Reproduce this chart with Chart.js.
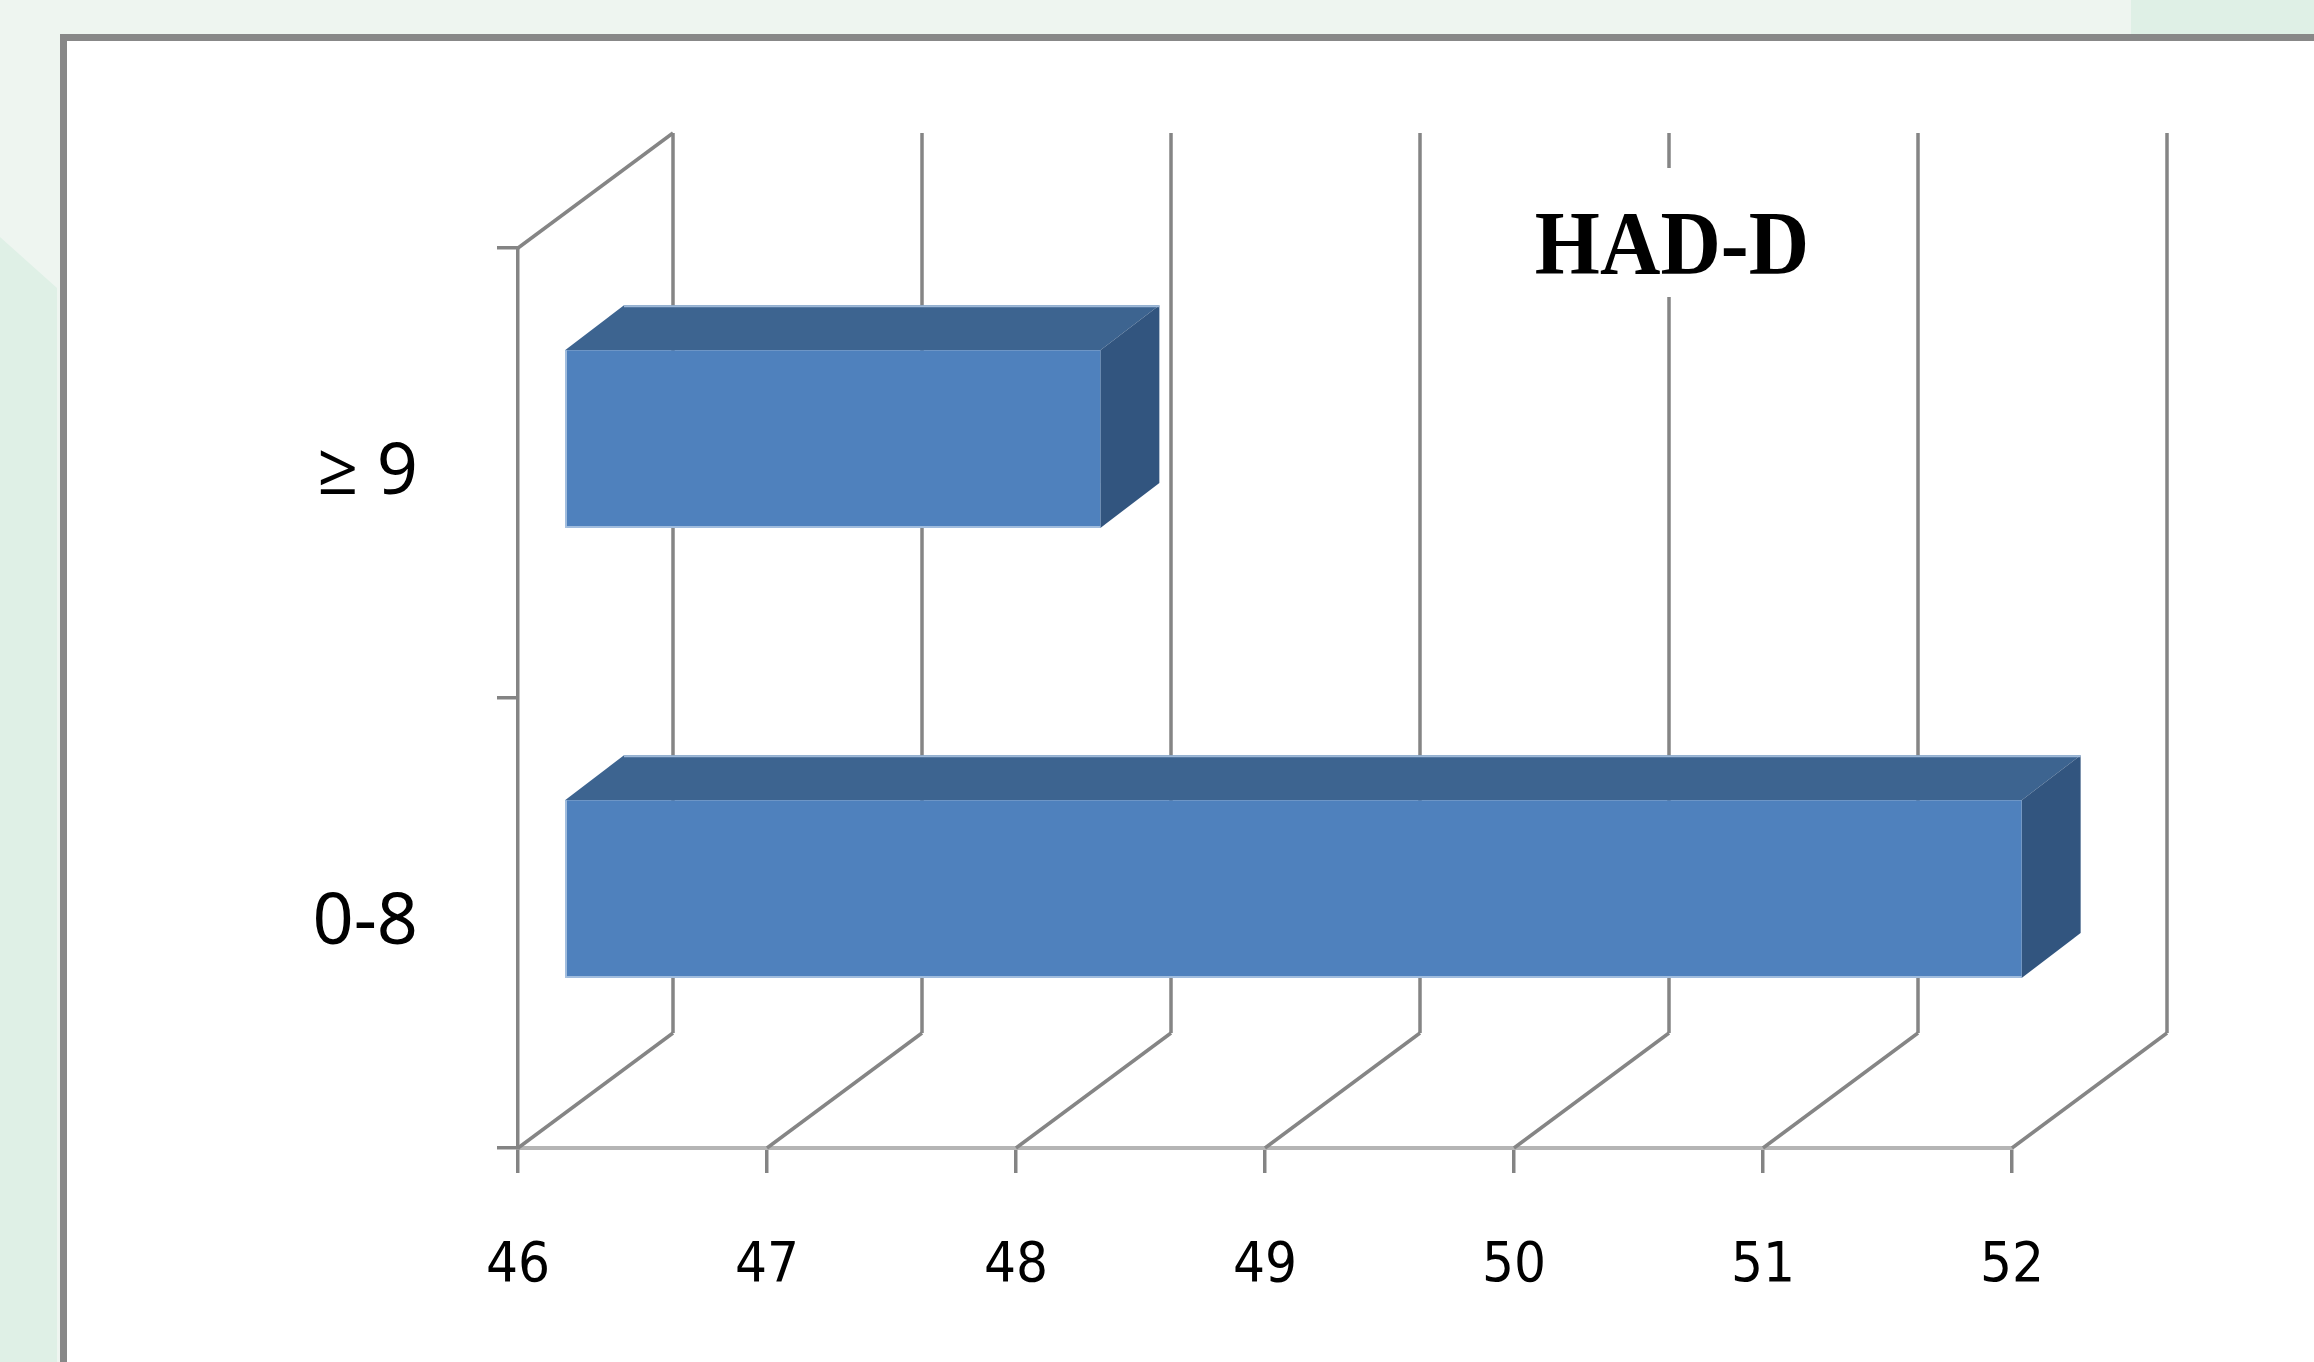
<!DOCTYPE html>
<html>
<head>
<meta charset="utf-8">
<title>HAD-D</title>
<script src="https://cdn.jsdelivr.net/npm/chart.js@4.4.1/dist/chart.umd.min.js"></script>
<style>
  html, body { margin: 0; padding: 0; width: 2314px; height: 1362px; overflow: hidden; background: #eef5f0; }
  #stripLeft { position: absolute; left: 0; top: 0; width: 57px; height: 1362px; background: #dff0e6;
               clip-path: polygon(0 237px, 57px 288px, 57px 1362px, 0 1362px); }
  #stripTop { position: absolute; left: 2131px; top: 0; width: 183px; height: 34px; background: #dff0e6; }
  #panel { position: absolute; left: 60px; top: 34px; width: 2400px; height: 1500px; background: #ffffff;
           border-left: 7px solid #888888; border-top: 7px solid #888888; }
  #wrap { position: absolute; left: 0; top: 0; width: 2314px; height: 1362px; }
</style>
</head>
<body>
<div id="stripLeft"></div>
<div id="stripTop"></div>
<div id="panel"></div>
<div id="wrap"><canvas id="chart"></canvas></div>
<script>
// HAD-D score groups and their share (%)
const categories = ['≥ 9', '0-8'];
const percentages = [48.15, 51.85];
const xTickValues = [46, 47, 48, 49, 50, 51, 52];
const chartTitle = 'HAD-D';

// Oblique projection used for the 3D walls and bar blocks
const WALL = { dx: 155, dy: -115 };        // back wall offset from the front plane
const BAR_FRONT = { dx: 47, dy: -34 };     // bar front face depth
const BAR_BACK = { dx: 106, dy: -79 };     // bar back face depth
const GRID_COLOR = '#858585';

function line(ctx, x1, y1, x2, y2) {
  ctx.beginPath();
  ctx.moveTo(x1, y1);
  ctx.lineTo(x2, y2);
  ctx.stroke();
}

function poly(ctx, pts, fill) {
  ctx.beginPath();
  ctx.moveTo(pts[0][0], pts[0][1]);
  for (let i = 1; i < pts.length; i++) ctx.lineTo(pts[i][0], pts[i][1]);
  ctx.closePath();
  ctx.fillStyle = fill;
  ctx.fill();
}

// Walls, floor and the title box behind the bars
const wallsPlugin = {
  id: 'walls3d',
  beforeDatasetsDraw(chart) {
    const ctx = chart.ctx;
    const area = chart.chartArea;
    const xs = chart.scales.x;
    ctx.save();
    ctx.strokeStyle = GRID_COLOR;
    ctx.lineWidth = 3.5;
    ctx.lineCap = 'butt';
    xTickValues.forEach(v => {
      const px = xs.getPixelForValue(v);
      line(ctx, px + WALL.dx, area.top + WALL.dy, px + WALL.dx, area.bottom + WALL.dy);
      line(ctx, px, area.bottom, px + WALL.dx, area.bottom + WALL.dy);
    });
    // top edge of the left side wall
    line(ctx, area.left, area.top, area.left + WALL.dx, area.top + WALL.dy);

    // title on a white plate over the back wall
    const cx = 1672, cy = 244;
    ctx.fillStyle = '#ffffff';
    ctx.fillRect(cx - 145, 168, 290, 129);
    ctx.fillStyle = '#000000';
    ctx.font = 'bold 90px "Liberation Serif", "Times New Roman", serif';
    ctx.textAlign = 'center';
    ctx.textBaseline = 'alphabetic';
    ctx.translate(cx, cy + 30);
    ctx.scale(0.93, 1);
    ctx.fillText(chartTitle, 0, 0);
    ctx.restore();
  }
};

// Extrude every bar element into a block starting at the axis minimum
const blocksPlugin = {
  id: 'blocks3d',
  afterDatasetsDraw(chart) {
    const ctx = chart.ctx;
    const xs = chart.scales.x;
    const meta = chart.getDatasetMeta(0);
    const ddx = BAR_BACK.dx - BAR_FRONT.dx;
    const ddy = BAR_BACK.dy - BAR_FRONT.dy;
    const minPx = xs.getPixelForValue(xs.min);
    ctx.save();
    meta.data.forEach(el => {
      const p = el.getProps(['x', 'y', 'base', 'height'], true);
      const left = Math.max(p.base, minPx) + BAR_FRONT.dx;
      const right = p.x + BAR_FRONT.dx;
      const top = p.y - p.height / 2 + BAR_FRONT.dy;
      const bottom = p.y + p.height / 2 + BAR_FRONT.dy;
      // top face
      poly(ctx, [[left, top], [right, top], [right + ddx, top + ddy], [left + ddx, top + ddy]], '#3d6490');
      // side face
      poly(ctx, [[right, top], [right + ddx, top + ddy], [right + ddx, bottom + ddy], [right, bottom]], '#32557f');
      // front face
      poly(ctx, [[left, top], [right, top], [right, bottom], [left, bottom]], '#4f81bd');
      // light edges
      ctx.strokeStyle = 'rgba(170,195,225,0.9)';
      ctx.lineWidth = 2;
      line(ctx, left + ddx, top + ddy + 1, right + ddx, top + ddy + 1);
      line(ctx, left + 1, top, left + 1, bottom);
      line(ctx, left, bottom - 1, right, bottom - 1);
    });
    ctx.restore();
  }
};

new Chart(document.getElementById('chart'), {
  type: 'bar',
  data: {
    labels: categories,
    datasets: [{
      data: percentages,
      backgroundColor: 'rgba(0,0,0,0)',
      borderWidth: 0,
      barPercentage: 0.395,
      categoryPercentage: 1.0
    }]
  },
  options: {
    indexAxis: 'y',
    responsive: true,
    maintainAspectRatio: false,
    animation: false,
    events: [],
    layout: { padding: { top: 248, right: 302, left: 0, bottom: 0 } },
    plugins: {
      legend: { display: false },
      tooltip: { enabled: false },
      title: { display: false }
    },
    scales: {
      x: {
        type: 'linear',
        min: 46,
        max: 52,
        afterBuildTicks: scale => { scale.ticks = xTickValues.map(v => ({ value: v })); },
        afterFit: scale => { scale.height = 214; },
        ticks: {
          color: '#000000',
          padding: 60,
          font: { family: '"DejaVu Sans Condensed", "DejaVu Sans", sans-serif', size: 56 }
        },
        grid: { drawOnChartArea: false, drawTicks: true, tickLength: 25, color: '#848484', lineWidth: 3.5 },
        border: { display: true, color: '#b5b5b5', width: 4 }
      },
      y: {
        type: 'category',
        afterFit: scale => { scale.width = 518; },
        ticks: {
          color: '#000000',
          padding: 79,
          font: { family: '"Noto Sans", "Open Sans", sans-serif', size: 72 }
        },
        grid: { offset: true, drawOnChartArea: false, drawTicks: true, tickLength: 21, color: '#848484', lineWidth: 3.5 },
        border: { display: true, color: GRID_COLOR, width: 3.5 }
      }
    }
  },
  plugins: [wallsPlugin, blocksPlugin]
});
</script>
</body>
</html>
